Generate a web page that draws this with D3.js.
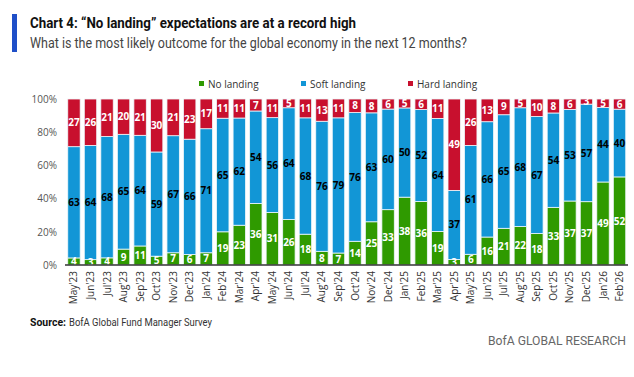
<!DOCTYPE html>
<html>
<head>
<meta charset="utf-8">
<script src="https://cdn.jsdelivr.net/npm/d3@7"></script>
<style>
  html, body { margin: 0; padding: 0; background: #fff; }
  svg { display: block; }
</style>
</head>
<body>
<svg id="chart" width="634" height="377"></svg>
<script>
const months = ["May'23","Jun'23","Jul'23","Aug'23","Sep'23","Oct'23","Nov'23","Dec'23","Jan'24","Feb'24","Mar'24","Apr'24","May'24","Jun'24","Jul'24","Aug'24","Sep'24","Oct'24","Nov'24","Dec'24","Jan'25","Feb'25","Mar'25","Apr'25","May'25","Jun'25","Jul'25","Aug'25","Sep'25","Oct'25","Nov'25","Dec'25","Jan'26","Feb'26"];
const noLanding   = [4,3,4,9,11,5,7,6,7,19,23,36,31,26,18,8,7,14,25,33,38,36,19,3,6,16,21,22,18,33,37,37,49,52];
const softLanding = [63,64,68,65,64,59,67,66,71,65,62,54,56,64,68,76,79,76,63,60,50,52,64,37,61,66,65,68,67,54,53,57,44,40];
const hardLanding = [27,26,21,20,21,30,21,23,17,11,11,7,11,5,11,13,11,8,8,6,5,6,11,49,26,13,9,5,10,8,6,3,5,6];
const seriesNames = ["No landing","Soft landing","Hard landing"];
const yTicks = [0,0.2,0.4,0.6,0.8,1.0];

const colors = {"No landing":"#2f9a00","Soft landing":"#1296d6","Hard landing":"#c8102e"};
const labelColors = {"No landing":"#ffffff","Soft landing":"#000000","Hard landing":"#ffffff"};

const rows = months.map((m,i)=>({month:m,"No landing":noLanding[i],"Soft landing":softLanding[i],"Hard landing":hardLanding[i]}));

const svg = d3.select("#chart");
const font = "'Roboto', 'Open Sans', sans-serif";

// header
svg.append("rect").attr("x",12).attr("y",14).attr("width",5).attr("height",38).attr("fill","#1f4fc8");
svg.append("text").attr("x",30).attr("y",28).attr("font-family",font).attr("font-weight","bold")
  .attr("font-size",15).attr("fill","#111")
  .attr("textLength",326).attr("lengthAdjust","spacingAndGlyphs")
  .text("Chart 4: \u201CNo landing\u201D expectations are at a record high");
svg.append("text").attr("x",30).attr("y",48).attr("font-family",font)
  .attr("font-size",14).attr("fill","#444")
  .attr("textLength",437).attr("lengthAdjust","spacingAndGlyphs")
  .text("What is the most likely outcome for the global economy in the next 12 months?");

const x = d3.scaleBand().domain(months).range([65.7, 627.8]).paddingInner(0.25).paddingOuter(0.125);
const y = d3.scaleLinear().domain([0,1]).range([265, 99]);

const stack = d3.stack().keys(seriesNames).offset(d3.stackOffsetExpand);
const stacked = stack(rows);

const g = svg.append("g");
const layers = g.selectAll("g.layer").data(stacked).join("g").attr("class","layer")
  .attr("fill", d=>colors[d.key]);
layers.selectAll("rect").data(d=>d).join("rect")
  .attr("x", d=>x(d.data.month))
  .attr("width", x.bandwidth())
  .attr("y", d=>y(d[1]))
  .attr("height", d=>y(d[0])-y(d[1]))
  .attr("stroke","#eef7fb").attr("stroke-width",0.8);

// value labels
stacked.forEach(layer=>{
  g.append("g").selectAll("text").data(layer).join("text")
    .attr("x", d=>x(d.data.month)+x.bandwidth()/2)
    .attr("y", d=>(y(d[0])+y(d[1]))/2)
    .attr("dy","0.36em")
    .attr("text-anchor","middle")
    .attr("font-family","'Open Sans', sans-serif")
    .attr("font-weight","bold")
    .attr("font-size",10)
    .attr("fill", labelColors[layer.key])
    .text(d=>d.data[layer.key]);
});

// y axis
const yAxis = d3.axisLeft(y).tickValues(yTicks).tickFormat(d3.format(".0%")).tickSize(0).tickPadding(0);
const ya = svg.append("g").attr("transform","translate(57,0)").call(yAxis);
ya.select(".domain").remove();
ya.selectAll("text").attr("font-family","'Open Sans', sans-serif").attr("font-size",10).attr("fill","#555");

// x axis
const xAxis = d3.axisBottom(x).tickSize(0).tickPadding(0);
const xa = svg.append("g").attr("transform","translate(0,265)").call(xAxis);
xa.select(".domain").attr("stroke","#333").attr("stroke-width",1.5).attr("d","M65,0H628");
xa.selectAll("text")
  .attr("font-family","'Open Sans', sans-serif").attr("font-size",10).attr("fill","#333")
  .attr("transform","rotate(-90)")
  .attr("text-anchor","end").attr("x",-6).attr("y",0).attr("dy","0.35em");

// legend
const legendX = [199, 301, 408];
const lg = svg.append("g");
seriesNames.forEach((s,i)=>{
  lg.append("rect").attr("x",legendX[i]).attr("y",81).attr("width",5).attr("height",5).attr("fill",colors[s]);
  lg.append("text").attr("x",legendX[i]+9).attr("y",84).attr("dy","0.35em")
    .attr("font-family","'Open Sans', sans-serif").attr("font-size",10).attr("fill","#333").text(s);
});

// footer
svg.append("text").attr("x",30).attr("y",326).attr("font-family",font).attr("font-size",11.5)
  .attr("font-weight","bold").attr("fill","#111")
  .attr("textLength",36).attr("lengthAdjust","spacingAndGlyphs").text("Source:");
svg.append("text").attr("x",69).attr("y",326).attr("font-family",font).attr("font-size",11.5)
  .attr("fill","#333")
  .attr("textLength",143).attr("lengthAdjust","spacingAndGlyphs").text("BofA Global Fund Manager Survey");
svg.append("text").attr("x",626).attr("y",345).attr("text-anchor","end").attr("font-family",font)
  .attr("font-size",12).attr("fill","#666")
  .attr("textLength",138).attr("lengthAdjust","spacingAndGlyphs")
  .text("BofA GLOBAL RESEARCH");
</script>
</body>
</html>
